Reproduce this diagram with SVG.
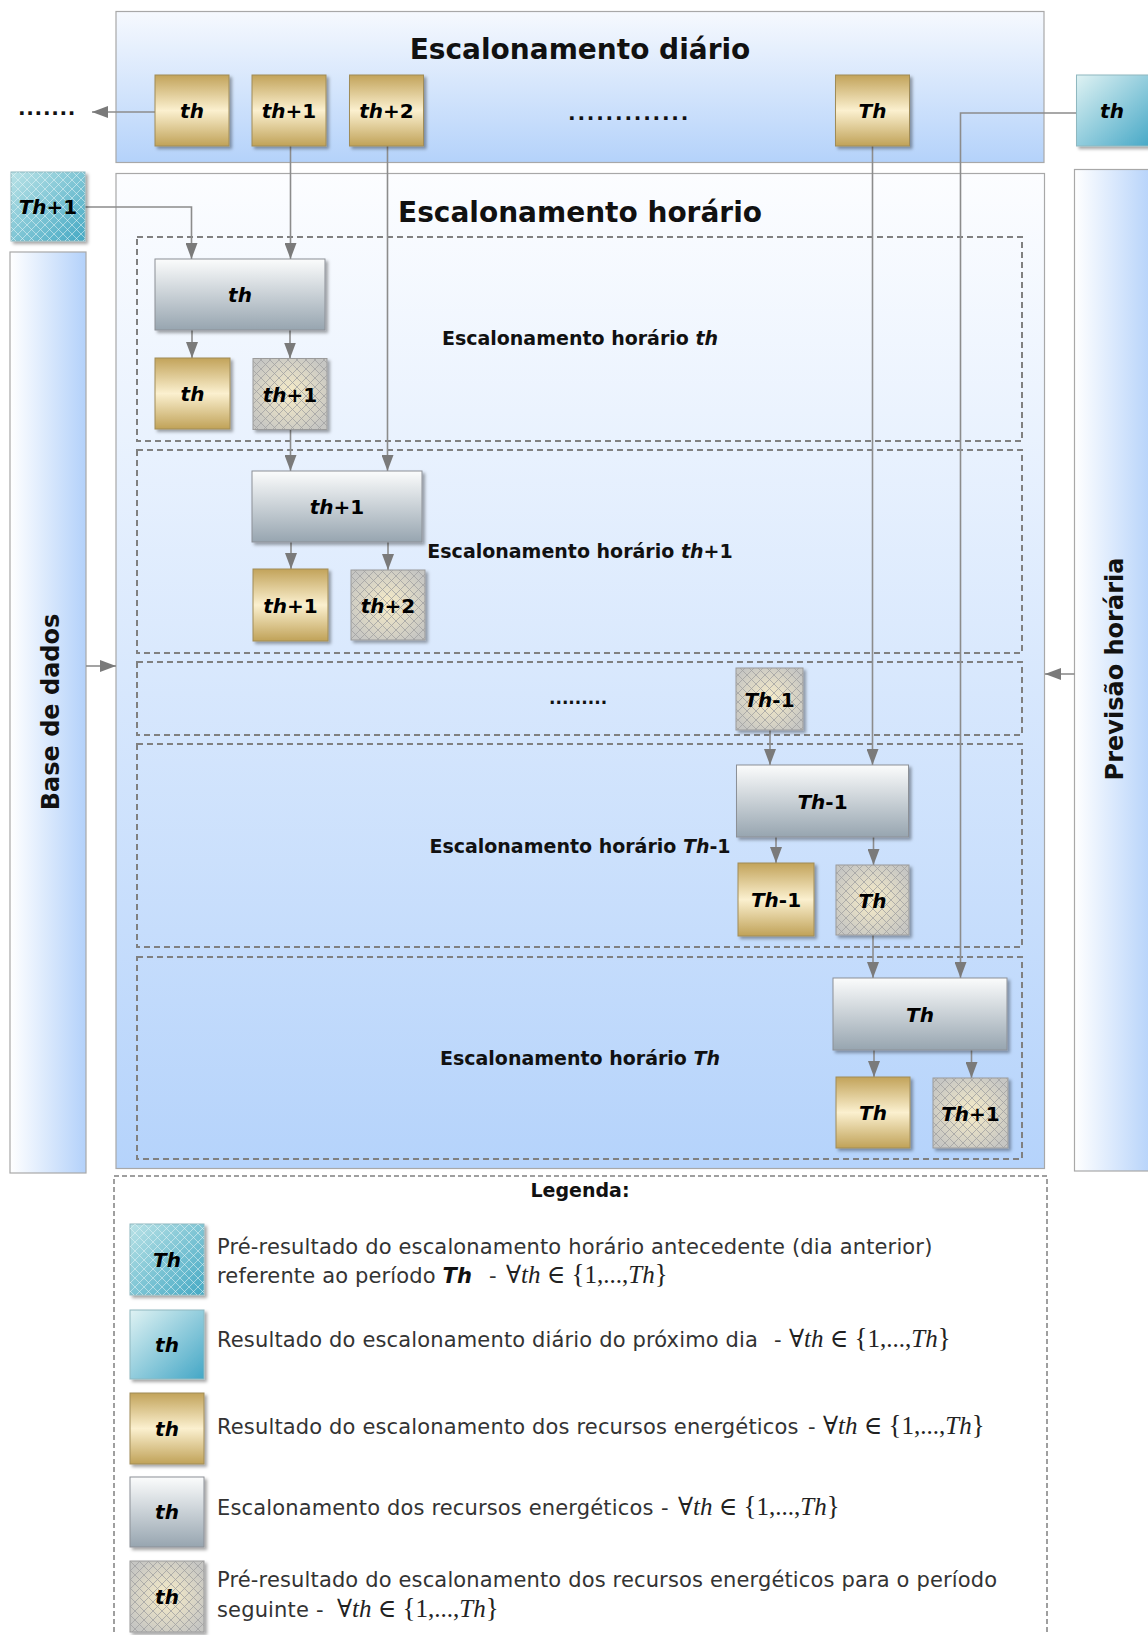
<svg xmlns="http://www.w3.org/2000/svg" width="1148" height="1635" viewBox="0 0 1148 1635">
<defs>
<style>
.gold{fill:url(#gGold);stroke:#a08c58;stroke-width:1;filter:url(#sh)}
.grey{fill:url(#gGrey);stroke:#8c9096;stroke-width:1;filter:url(#sh)}
.hb{fill:url(#gHatch);stroke:#9a9a9a;stroke-width:1;filter:url(#sh)}
.hp{fill:url(#pHatch);stroke:none}
.th{fill:url(#gTealH);stroke:#8fb8c0;stroke-width:1;filter:url(#sh)}
.tp{fill:url(#pHatchW);stroke:none}
.tl{fill:url(#gTeal);stroke:#8fb8c0;stroke-width:1;filter:url(#sh)}
.nt{font-family:"DejaVu Sans",Verdana,sans-serif;font-weight:bold;font-size:20px;text-anchor:middle;fill:#000}
.it{font-style:italic}
.ttl{font-family:"DejaVu Sans",Verdana,sans-serif;font-weight:bold;font-size:28px;text-anchor:middle;fill:#111}
.side{font-family:"DejaVu Sans",Verdana,sans-serif;font-weight:bold;font-size:24px;text-anchor:middle;fill:#111}
.sl{font-family:"DejaVu Sans",Verdana,sans-serif;font-weight:bold;font-size:19px;text-anchor:middle;fill:#111}
.dots{font-family:"DejaVu Sans",Verdana,sans-serif;font-weight:bold;fill:#111}
.sec{fill:none;stroke:#808080;stroke-width:2;stroke-dasharray:6 4}
.lgb{fill:none;stroke:#808080;stroke-width:1.5;stroke-dasharray:5 3}
.lt{font-family:"DejaVu Sans",Verdana,sans-serif;font-size:21px;letter-spacing:0.15px;fill:#333}
.math{font-family:"Liberation Serif","DejaVu Serif",serif;font-size:25px;fill:#222}
.br{font-size:27px}
.conn path{fill:none;stroke:#8c8c8c;stroke-width:1.6;marker-end:url(#ah)}
.frame{stroke:#a8a8a8;stroke-width:1.2}
</style>
<linearGradient id="gGold" x1="0" y1="0" x2="0" y2="1">
<stop offset="0" stop-color="#c2a35a"/><stop offset="0.5" stop-color="#fbf0cf"/><stop offset="1" stop-color="#c0a258"/>
</linearGradient>
<linearGradient id="gGrey" x1="0" y1="0" x2="0" y2="1">
<stop offset="0" stop-color="#fbfcfc"/><stop offset="1" stop-color="#97a5b0"/>
</linearGradient>
<radialGradient id="gHatch" cx="0.5" cy="0.5" r="0.6">
<stop offset="0" stop-color="#f8edc8"/><stop offset="1" stop-color="#c6c6c3"/>
</radialGradient>
<linearGradient id="gTealH" x1="0" y1="0" x2="1" y2="1">
<stop offset="0" stop-color="#b9e2e6"/><stop offset="1" stop-color="#45a9c4"/>
</linearGradient>
<linearGradient id="gTeal" x1="0" y1="0" x2="1" y2="1">
<stop offset="0" stop-color="#dff2f3"/><stop offset="1" stop-color="#44a7c6"/>
</linearGradient>
<linearGradient id="gDaily" x1="0" y1="0" x2="0" y2="1">
<stop offset="0" stop-color="#f6f9fe"/><stop offset="1" stop-color="#b4d2fa"/>
</linearGradient>
<linearGradient id="gHourly" x1="0" y1="0" x2="0" y2="1">
<stop offset="0" stop-color="#fcfdff"/><stop offset="1" stop-color="#b5d3fb"/>
</linearGradient>
<linearGradient id="gSide" x1="0" y1="0" x2="1" y2="0">
<stop offset="0" stop-color="#ffffff"/><stop offset="1" stop-color="#b3d1fa"/>
</linearGradient>
<pattern id="pHatch" width="9" height="9" patternUnits="userSpaceOnUse">
<path d="M0,0 L9,9 M9,0 L0,9" stroke="#a2a2a2" stroke-width="0.8" fill="none"/>
</pattern>
<pattern id="pHatchW" width="9" height="9" patternUnits="userSpaceOnUse">
<path d="M0,0 L9,9 M9,0 L0,9" stroke="#e8f6f7" stroke-opacity="0.6" stroke-width="0.9" fill="none"/>
</pattern>
<filter id="sh" x="-10%" y="-10%" width="125%" height="125%">
<feDropShadow dx="2.5" dy="2.5" stdDeviation="1.5" flood-color="#000" flood-opacity="0.35"/>
</filter>
<marker id="ah" markerWidth="16" markerHeight="12" refX="16" refY="6" orient="auto" markerUnits="userSpaceOnUse">
<path d="M0,0 L16,6 L0,12 z" fill="#7a7a7a"/>
</marker>
</defs>

<!-- containers -->
<g id="daily">
<rect x="116" y="11.5" width="928" height="151" fill="url(#gDaily)" class="frame"/>
<text class="ttl" x="580" y="59">Escalonamento diário</text>
<text class="dots" x="568" y="120" font-size="20" letter-spacing="1.8">.............</text>
</g>
<g id="hourly">
<rect x="116" y="173.5" width="928.5" height="995" fill="url(#gHourly)" class="frame"/>
<text class="ttl" x="580" y="222">Escalonamento horário</text>
</g>
<g id="base-dados">
<rect x="10" y="252" width="76" height="921" fill="url(#gSide)" class="frame"/>
<text class="side" transform="translate(58.5,712) rotate(-90)">Base de dados</text>
</g>
<g id="previsao">
<rect x="1074.5" y="169.5" width="80" height="1001.5" fill="url(#gSide)" class="frame"/>
<text class="side" transform="translate(1123,669) rotate(-90)">Previsão horária</text>
</g>
<g id="left-dots">
<text class="dots" x="18" y="115" font-size="20" letter-spacing="0.7">.......</text>
</g>

<!-- sections -->
<g id="sec1">
<rect class="sec" x="137" y="237" width="885" height="204"/>
<text class="sl" x="580" y="345">Escalonamento horário <tspan class="it">th</tspan></text>
</g>
<g id="sec2">
<rect class="sec" x="137" y="450" width="885" height="203"/>
<text class="sl" x="580" y="558">Escalonamento horário <tspan class="it">th</tspan>+1</text>
</g>
<g id="sec3">
<rect class="sec" x="137" y="662" width="885" height="73"/>
<text class="dots" x="549" y="704" font-size="17">.........</text>
</g>
<g id="sec4">
<rect class="sec" x="137" y="744" width="885" height="203"/>
<text class="sl" x="580" y="853">Escalonamento horário <tspan class="it">Th</tspan>-1</text>
</g>
<g id="sec5">
<rect class="sec" x="137" y="957" width="885" height="202"/>
<text class="sl" x="580" y="1065">Escalonamento horário <tspan class="it">Th</tspan></text>
</g>

<!-- connectors -->
<g id="connectors" class="conn">
<path d="M155,112 H92"/>
<path d="M85,207 H191.5 V259"/>
<path d="M290.5,146 V259"/>
<path d="M387.5,146 V471"/>
<path d="M192,330 V358"/>
<path d="M290,330 V358.5"/>
<path d="M290.5,429 V471"/>
<path d="M291,542 V569"/>
<path d="M388,542 V570"/>
<path d="M770,730 V765"/>
<path d="M872.5,146 V765"/>
<path d="M776,837 V863"/>
<path d="M873.5,837 V865"/>
<path d="M873,935 V978"/>
<path d="M1076.5,113 H960.5 V978"/>
<path d="M874,1050 V1077"/>
<path d="M971.5,1050 V1078"/>
<path d="M86,666 H116"/>
<path d="M1074.5,674 H1045"/>
</g>

<!-- daily nodes -->
<g id="d-th"><rect class="gold" x="155" y="75" width="74" height="71"/><text class="nt" x="192" y="118"><tspan class="it">th</tspan></text></g>
<g id="d-th1"><rect class="gold" x="252" y="75" width="74" height="71"/><text class="nt" x="289" y="118"><tspan class="it">th</tspan>+1</text></g>
<g id="d-th2"><rect class="gold" x="349.5" y="75" width="74" height="71"/><text class="nt" x="386.5" y="118"><tspan class="it">th</tspan>+2</text></g>
<g id="d-Th"><rect class="gold" x="835.5" y="75" width="74" height="71"/><text class="nt" x="872.5" y="118"><tspan class="it">Th</tspan></text></g>
<g id="next-th"><rect class="tl" x="1076.5" y="75" width="76" height="71"/><text class="nt" x="1112" y="118"><tspan class="it">th</tspan></text></g>
<g id="prev-Th1"><rect class="th" x="11" y="172" width="74" height="69"/><rect class="tp" x="11" y="172" width="74" height="69"/><text class="nt" x="48" y="214"><tspan class="it">Th</tspan>+1</text></g>

<!-- section 1 nodes -->
<g id="s1-grey"><rect class="grey" x="155" y="259" width="170" height="71"/><text class="nt" x="240" y="302"><tspan class="it">th</tspan></text></g>
<g id="s1-gold"><rect class="gold" x="155" y="358" width="75" height="71"/><text class="nt" x="192.5" y="401"><tspan class="it">th</tspan></text></g>
<g id="s1-pre"><rect class="hb" x="253" y="358.5" width="74" height="71"/><rect class="hp" x="253" y="358.5" width="74" height="71"/><text class="nt" x="290" y="401.5"><tspan class="it">th</tspan>+1</text></g>

<!-- section 2 nodes -->
<g id="s2-grey"><rect class="grey" x="252" y="471" width="170" height="71"/><text class="nt" x="337" y="514"><tspan class="it">th</tspan>+1</text></g>
<g id="s2-gold"><rect class="gold" x="253" y="569" width="75" height="72"/><text class="nt" x="290.5" y="612.5"><tspan class="it">th</tspan>+1</text></g>
<g id="s2-pre"><rect class="hb" x="351" y="570" width="74" height="70"/><rect class="hp" x="351" y="570" width="74" height="70"/><text class="nt" x="388" y="612.5"><tspan class="it">th</tspan>+2</text></g>

<!-- section 3 node -->
<g id="s3-pre"><rect class="hb" x="736" y="668" width="67" height="62"/><rect class="hp" x="736" y="668" width="67" height="62"/><text class="nt" x="769.5" y="706.5"><tspan class="it">Th</tspan>-1</text></g>

<!-- section 4 nodes -->
<g id="s4-grey"><rect class="grey" x="736.5" y="765" width="172" height="72"/><text class="nt" x="822.5" y="808.5"><tspan class="it">Th</tspan>-1</text></g>
<g id="s4-gold"><rect class="gold" x="738" y="863" width="76" height="73"/><text class="nt" x="776" y="907"><tspan class="it">Th</tspan>-1</text></g>
<g id="s4-pre"><rect class="hb" x="836" y="865" width="73" height="70"/><rect class="hp" x="836" y="865" width="73" height="70"/><text class="nt" x="872.5" y="907.5"><tspan class="it">Th</tspan></text></g>

<!-- section 5 nodes -->
<g id="s5-grey"><rect class="grey" x="833" y="978" width="174" height="72"/><text class="nt" x="920" y="1021.5"><tspan class="it">Th</tspan></text></g>
<g id="s5-gold"><rect class="gold" x="836" y="1077" width="74" height="71"/><text class="nt" x="873" y="1120"><tspan class="it">Th</tspan></text></g>
<g id="s5-pre"><rect class="hb" x="933" y="1078" width="75" height="70"/><rect class="hp" x="933" y="1078" width="75" height="70"/><text class="nt" x="970.5" y="1120.5"><tspan class="it">Th</tspan>+1</text></g>

<!-- legend -->
<g id="legend">
<path class="lgb" d="M114,1640 V1176 H1047 V1640"/>
<text class="sl" x="580" y="1197" font-size="18">Legenda:</text>

<rect class="th" x="130" y="1224" width="74" height="71"/><rect class="tp" x="130" y="1224" width="74" height="71"/>
<text class="nt" x="167" y="1267"><tspan class="it">Th</tspan></text>
<text class="lt" x="217" y="1254">Pré-resultado do escalonamento horário antecedente (dia anterior)</text>
<text class="lt" x="217" y="1283">referente ao período <tspan font-weight="bold" font-style="italic" fill="#111">Th</tspan></text>
<text class="lt" x="489" y="1283">-</text>
<text class="math" x="506" y="1283">∀<tspan font-style="italic">th</tspan> ∈ <tspan class="br">{</tspan>1,...,<tspan font-style="italic">Th</tspan><tspan class="br">}</tspan></text>

<rect class="tl" x="130" y="1310" width="74" height="69"/>
<text class="nt" x="167" y="1352"><tspan class="it">th</tspan></text>
<text class="lt" x="217" y="1347">Resultado do escalonamento diário do próximo dia</text>
<text class="lt" x="774" y="1347">-</text>
<text class="math" x="789" y="1347">∀<tspan font-style="italic">th</tspan> ∈ <tspan class="br">{</tspan>1,...,<tspan font-style="italic">Th</tspan><tspan class="br">}</tspan></text>

<rect class="gold" x="130" y="1393" width="74" height="71"/>
<text class="nt" x="167" y="1436"><tspan class="it">th</tspan></text>
<text class="lt" x="217" y="1434">Resultado do escalonamento dos recursos energéticos</text>
<text class="lt" x="808" y="1434">-</text>
<text class="math" x="823" y="1434">∀<tspan font-style="italic">th</tspan> ∈ <tspan class="br">{</tspan>1,...,<tspan font-style="italic">Th</tspan><tspan class="br">}</tspan></text>

<rect class="grey" x="130" y="1477" width="74" height="70"/>
<text class="nt" x="167" y="1519"><tspan class="it">th</tspan></text>
<text class="lt" x="217" y="1515">Escalonamento dos recursos energéticos</text>
<text class="lt" x="661" y="1515">-</text>
<text class="math" x="678" y="1515">∀<tspan font-style="italic">th</tspan> ∈ <tspan class="br">{</tspan>1,...,<tspan font-style="italic">Th</tspan><tspan class="br">}</tspan></text>

<rect class="hb" x="130" y="1561" width="74" height="71"/><rect class="hp" x="130" y="1561" width="74" height="71"/>
<text class="nt" x="167" y="1604"><tspan class="it">th</tspan></text>
<text class="lt" x="217" y="1587">Pré-resultado do escalonamento dos recursos energéticos para o período</text>
<text class="lt" x="217" y="1617">seguinte</text>
<text class="lt" x="316" y="1617">-</text>
<text class="math" x="337" y="1617">∀<tspan font-style="italic">th</tspan> ∈ <tspan class="br">{</tspan>1,...,<tspan font-style="italic">Th</tspan><tspan class="br">}</tspan></text>
</g>
</svg>
